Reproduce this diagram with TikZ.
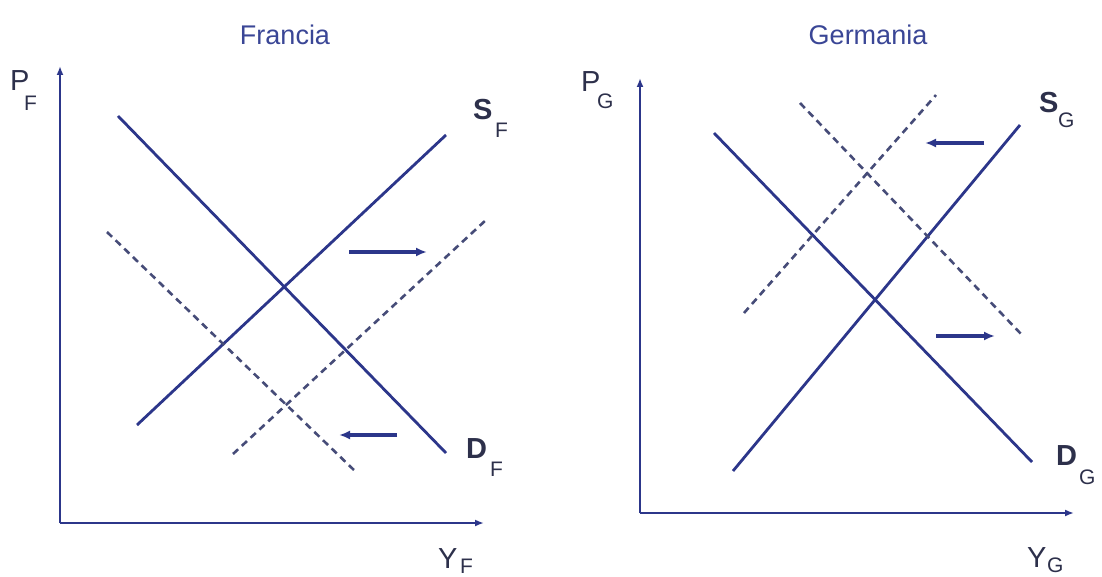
\documentclass[tikz,border=0pt]{standalone}
\usepackage{fontspec}
\setmainfont{Liberation Sans}
\usetikzlibrary{arrows.meta}
\definecolor{navy}{RGB}{44,54,138}
\definecolor{dashc}{RGB}{70,76,120}
\definecolor{titlec}{RGB}{58,70,150}
\definecolor{labc}{RGB}{45,48,75}
\tikzset{
  axisline/.style={navy,line width=2.8pt,-{Latex[length=9pt,width=7pt]}},
  solidcurve/.style={navy,line width=2.8pt},
  dashcurve/.style={dashc,line width=2.6pt,dash pattern=on 7pt off 5pt},
  shiftarrow/.style={navy,line width=3.2pt,-{Latex[length=11pt,width=9pt]}},
  titletext/.style={titlec,font=\fontsize{27}{27}\selectfont},
  mainlab/.style={labc,anchor=base west,inner sep=0pt,font=\fontsize{29}{29}\selectfont},
  boldlab/.style={labc,anchor=base west,inner sep=0pt,font=\fontsize{29}{29}\selectfont\bfseries},
  sublab/.style={labc,anchor=base west,inner sep=0pt,font=\fontsize{21}{21}\selectfont}
}
\begin{document}
\begin{tikzpicture}[x=1pt,y=-1pt]
\useasboundingbox[fill=white] (0,0) rectangle (1102,577);
% ---------- Francia ----------
\node[titletext] (tF) at (285,35) {Francia};
\coordinate (oF) at (60,523);
\coordinate (yF) at (60,66);
\coordinate (xF) at (484,523);
\draw[axisline] (oF) -- (yF);
\draw[axisline] (oF) -- (xF);
\coordinate (sF1) at (137,425); \coordinate (sF2) at (446,135);
\coordinate (dF1) at (118,116); \coordinate (dF2) at (446,453);
\coordinate (ddF1) at (107,232); \coordinate (ddF2) at (356,472);
\coordinate (dsF1) at (233,454); \coordinate (dsF2) at (486,220);
\draw[solidcurve] (sF1) -- (sF2);
\draw[solidcurve] (dF1) -- (dF2);
\draw[dashcurve] (ddF1) -- (ddF2);
\draw[dashcurve] (dsF1) -- (dsF2);
\coordinate (arF1) at (349,252); \coordinate (arF2) at (427,252);
\coordinate (alF1) at (397,435); \coordinate (alF2) at (339,435);
\draw[shiftarrow] (arF1) -- (arF2);
\draw[shiftarrow] (alF1) -- (alF2);
\node[mainlab] (PF) at (10,91) {P};
\node[sublab] (PFs) at (24,111) {F};
\node[boldlab] (SF) at (473,120) {S};
\node[sublab] (SFs) at (495,138) {F};
\node[boldlab] (DF) at (466,458) {D};
\node[sublab] (DFs) at (490,476) {F};
\node[mainlab] (YF) at (438,568) {Y};
\node[sublab] (YFs) at (460,573) {F};
% ---------- Germania ----------
\node[titletext] (tG) at (868,35) {Germania};
\coordinate (oG) at (640,513);
\coordinate (yG) at (640,78);
\coordinate (xG) at (1074,513);
\draw[axisline] (oG) -- (yG);
\draw[axisline] (oG) -- (xG);
\coordinate (sG1) at (733,471); \coordinate (sG2) at (1020,125);
\coordinate (dG1) at (714,133); \coordinate (dG2) at (1032,462);
\coordinate (dsG1) at (744,313); \coordinate (dsG2) at (936,95);
\coordinate (ddG1) at (800,103); \coordinate (ddG2) at (1022,335);
\draw[solidcurve] (sG1) -- (sG2);
\draw[solidcurve] (dG1) -- (dG2);
\draw[dashcurve] (dsG1) -- (dsG2);
\draw[dashcurve] (ddG1) -- (ddG2);
\coordinate (alG1) at (984,143); \coordinate (alG2) at (925,143);
\coordinate (arG1) at (936,336); \coordinate (arG2) at (995,336);
\draw[shiftarrow] (alG1) -- (alG2);
\draw[shiftarrow] (arG1) -- (arG2);
\node[mainlab] (PG) at (581,92) {P};
\node[sublab] (PGs) at (597,109) {G};
\node[boldlab] (SG) at (1039,113) {S};
\node[sublab] (SGs) at (1058,128) {G};
\node[boldlab] (DG) at (1056,465) {D};
\node[sublab] (DGs) at (1079,484) {G};
\node[mainlab] (YG) at (1027,567) {Y};
\node[sublab] (YGs) at (1047,572) {G};
\end{tikzpicture}
\end{document}
